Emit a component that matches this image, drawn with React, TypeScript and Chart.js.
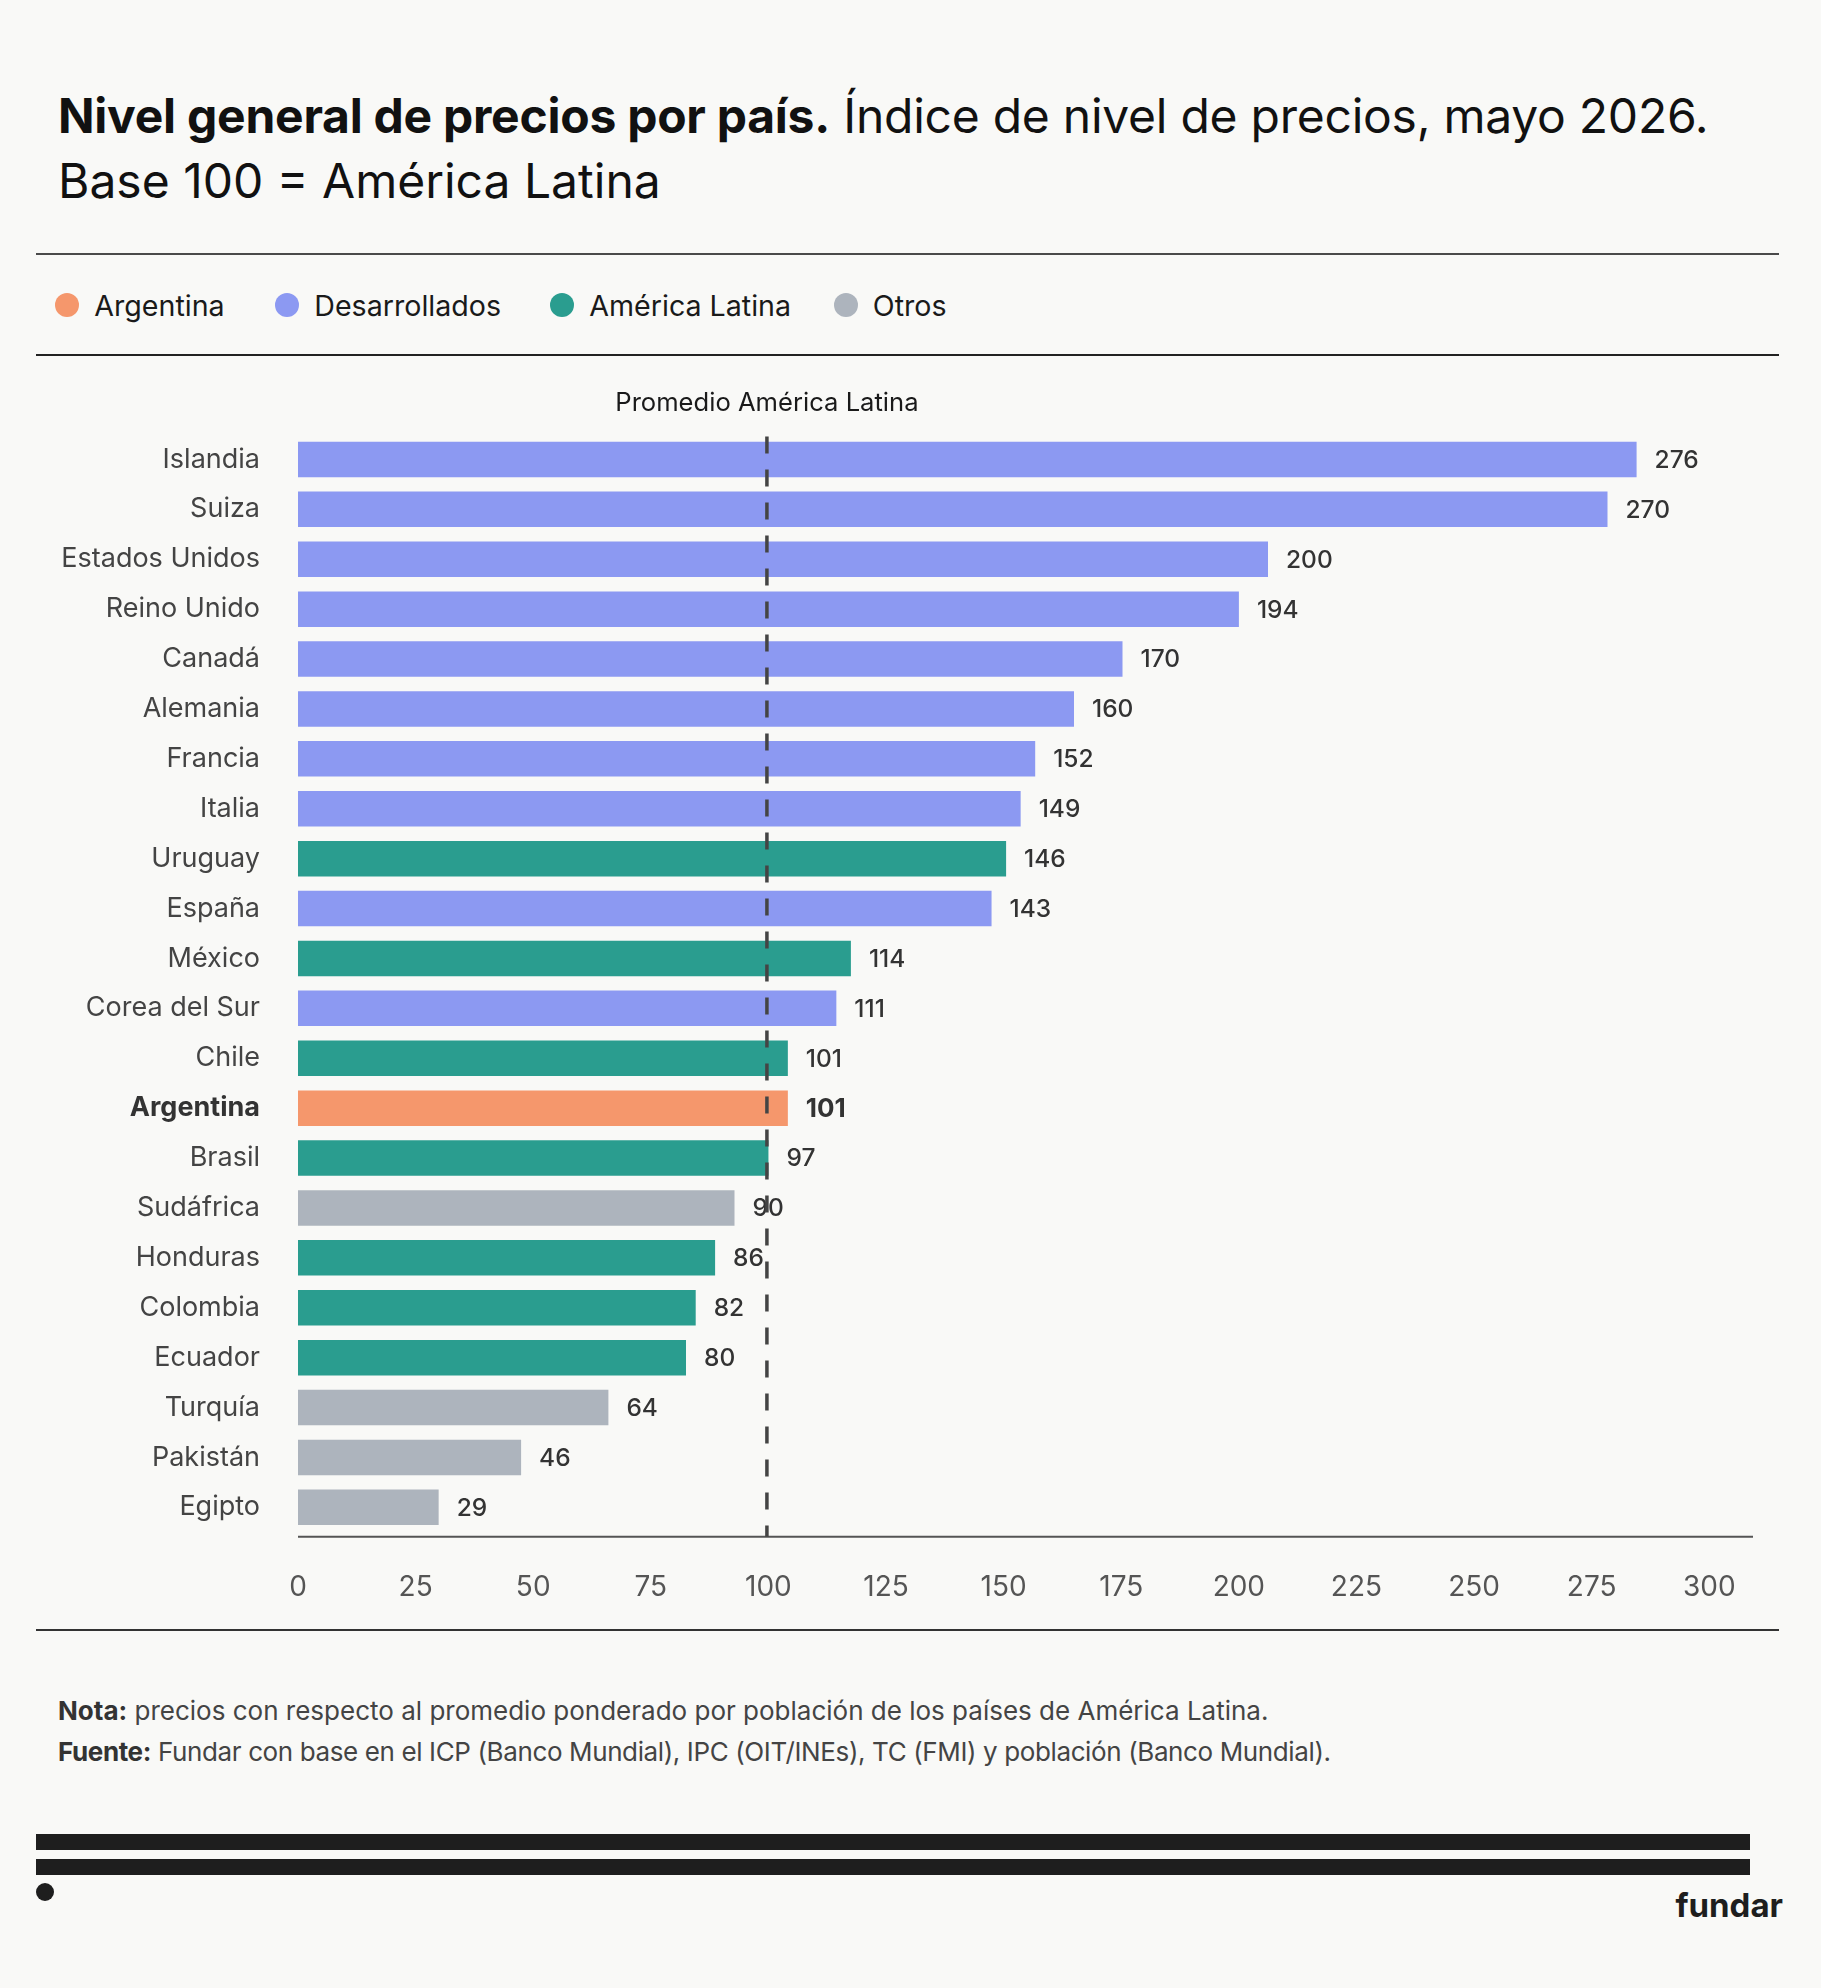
import React, { useEffect, useRef } from "react";
import { Chart, registerables } from "chart.js";

Chart.register(...registerables);

const countries = [
  "Islandia", "Suiza", "Estados Unidos", "Reino Unido", "Canadá", "Alemania",
  "Francia", "Italia", "Uruguay", "España", "México", "Corea del Sur", "Chile",
  "Argentina", "Brasil", "Sudáfrica", "Honduras", "Colombia", "Ecuador",
  "Turquía", "Pakistán", "Egipto",
];
const values = [276, 270, 200, 194, 170, 160, 152, 149, 146, 143, 114, 111, 101, 101, 97, 90, 86, 82, 80, 64, 46, 29];
const groups = [
  "Desarrollados", "Desarrollados", "Desarrollados", "Desarrollados", "Desarrollados",
  "Desarrollados", "Desarrollados", "Desarrollados", "América Latina", "Desarrollados",
  "América Latina", "Desarrollados", "América Latina", "Argentina", "América Latina",
  "Otros", "América Latina", "América Latina", "América Latina", "Otros", "Otros", "Otros",
];
const legendNames = ["Argentina", "Desarrollados", "América Latina", "Otros"];
const legendColors = ["#F5976C", "#8C99F2", "#2A9D8F", "#ADB4BD"];
const tickValues = [0, 25, 50, 75, 100, 125, 150, 175, 200, 225, 250, 275, 300];
const referenceValue = 100;
const referenceLabel = "Promedio América Latina";

const FONT = "Inter, 'Noto Sans', sans-serif";
const BG = "#F9F9F7";
const legendLefts = [55, 275, 550, 833.5];

function colorFor(g: string) {
  return legendColors[legendNames.indexOf(g)];
}

export default function App() {
  const canvasRef = useRef<HTMLCanvasElement | null>(null);

  useEffect(() => {
    document.body.style.margin = "0";
    document.body.style.background = BG;
    const canvas = canvasRef.current;
    if (!canvas) return;

    const overlay = {
      id: "overlay",
      afterDatasetsDraw(chart: any) {
        const ctx = chart.ctx;
        const area = chart.chartArea;
        const meta = chart.getDatasetMeta(0);
        const xt = chart.scales.xt;
        ctx.save();
        // value labels
        meta.data.forEach((el: any, i: number) => {
          const bold = groups[i] === "Argentina";
          ctx.font = bold ? `700 26px ${FONT}` : `500 24.5px ${FONT}`;
          ctx.fillStyle = "#333333";
          ctx.textAlign = "left";
          ctx.textBaseline = "middle";
          ctx.fillText(String(values[i]), el.x + 18, el.y + 1);
        });
        // axis line
        const axisY = area.bottom + 4.5;
        ctx.strokeStyle = "#555555";
        ctx.lineWidth = 2;
        ctx.beginPath();
        ctx.moveTo(area.left, axisY);
        ctx.lineTo(area.right, axisY);
        ctx.stroke();
        // reference dashed line
        const rx = xt.getPixelForValue(referenceValue) - 1.5;
        ctx.strokeStyle = "#444444";
        ctx.lineWidth = 3.5;
        ctx.setLineDash([17, 16]);
        ctx.beginPath();
        ctx.moveTo(rx, area.top + 2);
        ctx.lineTo(rx, axisY);
        ctx.stroke();
        ctx.setLineDash([]);
        // reference label
        ctx.font = `400 25.6px ${FONT}`;
        ctx.fillStyle = "#1a1a1a";
        ctx.textAlign = "center";
        ctx.textBaseline = "middle";
        ctx.fillText(referenceLabel, rx, 33);
        ctx.restore();
      },
    };

    const chart = new Chart(canvas, {
      type: "bar",
      data: {
        labels: countries,
        datasets: [
          {
            data: values,
            xAxisID: "x",
            yAxisID: "y",
            backgroundColor: groups.map(colorFor),
            borderWidth: 0,
            barPercentage: 0.712,
            categoryPercentage: 1,
          },
        ],
      },
      options: {
        indexAxis: "y",
        animation: false,
        responsive: false,
        maintainAspectRatio: false,
        layout: { padding: { left: 0, right: 68, top: 64.5, bottom: 7.7 } },
        plugins: { legend: { display: false }, tooltip: { enabled: false } },
        scales: {
          x: { type: "linear", min: 0, max: 300, display: false },
          xt: {
            type: "linear",
            position: "bottom",
            min: 0,
            max: 309.3,
            grid: { display: false, drawTicks: false },
            border: { display: false },
            afterFit: (s: any) => { s.height = 80; },
            afterBuildTicks: (s: any) => { s.ticks = tickValues.map((v) => ({ value: v })); },
            ticks: {
              padding: 38,
              color: "#555555",
              font: { family: FONT, size: 28, weight: "400" },
              maxRotation: 0,
              autoSkip: false,
            },
          },
          y: {
            type: "category",
            grid: { display: false, drawTicks: false },
            border: { display: false },
            afterFit: (s: any) => { s.width = 298; },
            ticks: {
              padding: 38,
              autoSkip: false,
              color: (c: any) => (groups[c.index] === "Argentina" ? "#333333" : "#444444"),
              font: (c: any) =>
                groups[c.index] === "Argentina"
                  ? { family: FONT, size: 27, weight: "700" }
                  : { family: FONT, size: 27, weight: "400" },
            },
          },
        },
      },
      plugins: [overlay],
    } as any);

    return () => chart.destroy();
  }, []);

  const line = (top: number, color: string, h = 2) => (
    <div style={{ position: "absolute", left: 36, top, width: 1743, height: h, background: color }} />
  );

  return (
    <div
      style={{
        position: "absolute",
        left: 0,
        top: 0,
        width: 1821,
        height: 1988,
        background: BG,
        overflow: "hidden",
        fontFamily: FONT,
      }}
    >
      <div
        style={{
          position: "absolute",
          left: 58,
          top: 82.7,
          width: 1740,
          fontSize: 48,
          lineHeight: "65px",
          color: "#111111",
        }}
      >
        <div style={{ letterSpacing: "-0.25px" }}>
          <span style={{ fontWeight: 700 }}>Nivel general de precios por país.</span> Índice de nivel de precios, mayo 2026.
        </div>
        <div>Base 100 = América Latina</div>
      </div>
      {line(252.5, "#4a4a4a")}
      {legendNames.map((n, i) => (
        <div
          key={n}
          style={{
            position: "absolute",
            left: legendLefts[i],
            top: 285,
            height: 40,
            display: "flex",
            alignItems: "center",
            fontSize: 28.6,
            color: "#1a1a1a",
            whiteSpace: "nowrap",
          }}
        >
          <span
            style={{
              display: "inline-block",
              width: 24,
              height: 24,
              borderRadius: 12,
              background: legendColors[i],
              marginRight: 15.3,
            }}
          />
          <span>{n}</span>
        </div>
      ))}
      {line(354, "#222222")}
      <canvas
        ref={canvasRef}
        width={1821}
        height={1250}
        style={{ position: "absolute", left: 0, top: 370, width: 1821, height: 1250 }}
      />
      {line(1629, "#333333")}
      <div
        style={{
          position: "absolute",
          left: 58,
          top: 1690,
          fontSize: 26,
          lineHeight: "41px",
          color: "#444444",
          whiteSpace: "nowrap",
        }}
      >
        <div>
          <span style={{ fontWeight: 700, color: "#333333" }}>Nota:</span> precios con respecto al promedio ponderado por población de los países de América Latina.
        </div>
        <div style={{ letterSpacing: "-0.38px" }}>
          <span style={{ fontWeight: 700, color: "#333333" }}>Fuente:</span> Fundar con base en el ICP (Banco Mundial), IPC (OIT/INEs), TC (FMI) y población (Banco Mundial).
        </div>
      </div>
      <div style={{ position: "absolute", left: 36, top: 1834, width: 1714, height: 16, background: "#1e1e1e" }} />
      <div style={{ position: "absolute", left: 36, top: 1859, width: 1714, height: 15.5, background: "#1e1e1e" }} />
      <div style={{ position: "absolute", left: 36, top: 1882.7, width: 18, height: 18, borderRadius: 9, background: "#1e1e1e" }} />
      <div
        style={{
          position: "absolute",
          right: 38,
          top: 1888.8,
          fontSize: 33,
          lineHeight: 1,
          fontWeight: 700,
          color: "#1e1e1e",
        }}
      >
        fundar
      </div>
    </div>
  );
}
